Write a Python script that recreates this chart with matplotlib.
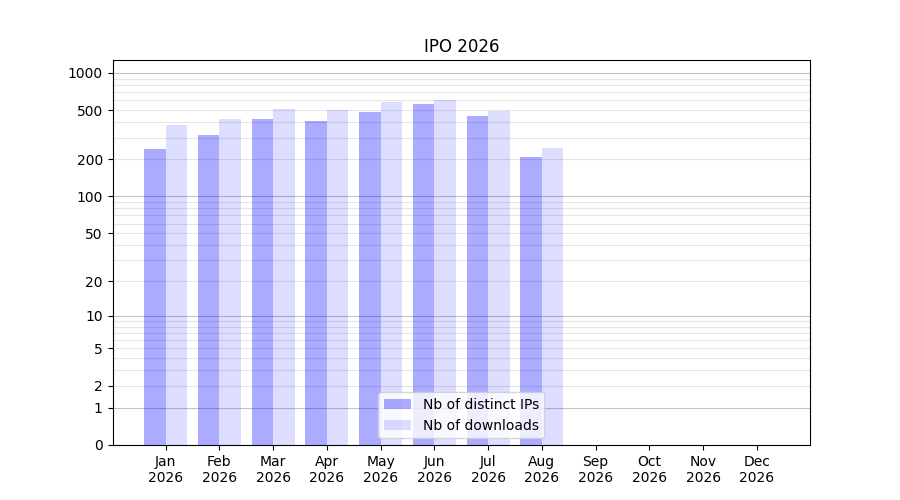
import numpy as np
import matplotlib

matplotlib.use("Agg")
import matplotlib.pyplot as plt

months = ["Jan", "Feb", "Mar", "Apr", "May", "Jun", "Jul", "Aug", "Sep", "Oct", "Nov", "Dec"]
year = "2026"
distinct_ips = [244, 315, 425, 409, 484, 561, 449, 209, 0, 0, 0, 0]
downloads = [380, 425, 512, 503, 583, 605, 493, 247, 0, 0, 0, 0]
yticks = [0, 1, 2, 5, 10, 20, 50, 100, 200, 500, 1000]


def fwd(v):
    return np.log10(1 + np.asarray(v, dtype=float))


def inv(v):
    return 10 ** np.asarray(v, dtype=float) - 1


fig, ax = plt.subplots(figsize=(9, 5), dpi=100)
ax.set_yscale("function", functions=(fwd, inv))

x = np.arange(len(months))
w = 0.4
ax.bar(x - w / 2, distinct_ips, w, color="blue", alpha=0.33, label="Nb of distinct IPs")
ax.bar(x + w / 2, downloads, w, color="blue", alpha=0.133, label="Nb of downloads")

# grid: dark at decades, light at the in-between multiples
for dec in [1, 10, 100, 1000]:
    ax.axhline(dec, color="#888", linewidth=0.8, alpha=0.5, zorder=0.5)
for dec in [1, 10, 100]:
    for m in range(2, 10):
        ax.axhline(dec * m, color="#ccc", linewidth=0.8, alpha=0.5, zorder=0.5)

ax.set_ylim(0, 1270)
ax.set_yticks(yticks)
ax.set_yticklabels([str(t) for t in yticks])
ax.yaxis.set_minor_locator(matplotlib.ticker.NullLocator())
ax.set_xticks(x)
ax.set_xticklabels([f"{m}\n{year}" for m in months])
ax.set_title("IPO 2026")
ax.legend(loc="lower center")

fig.savefig("out.png", dpi=100)
plt.close(fig)
